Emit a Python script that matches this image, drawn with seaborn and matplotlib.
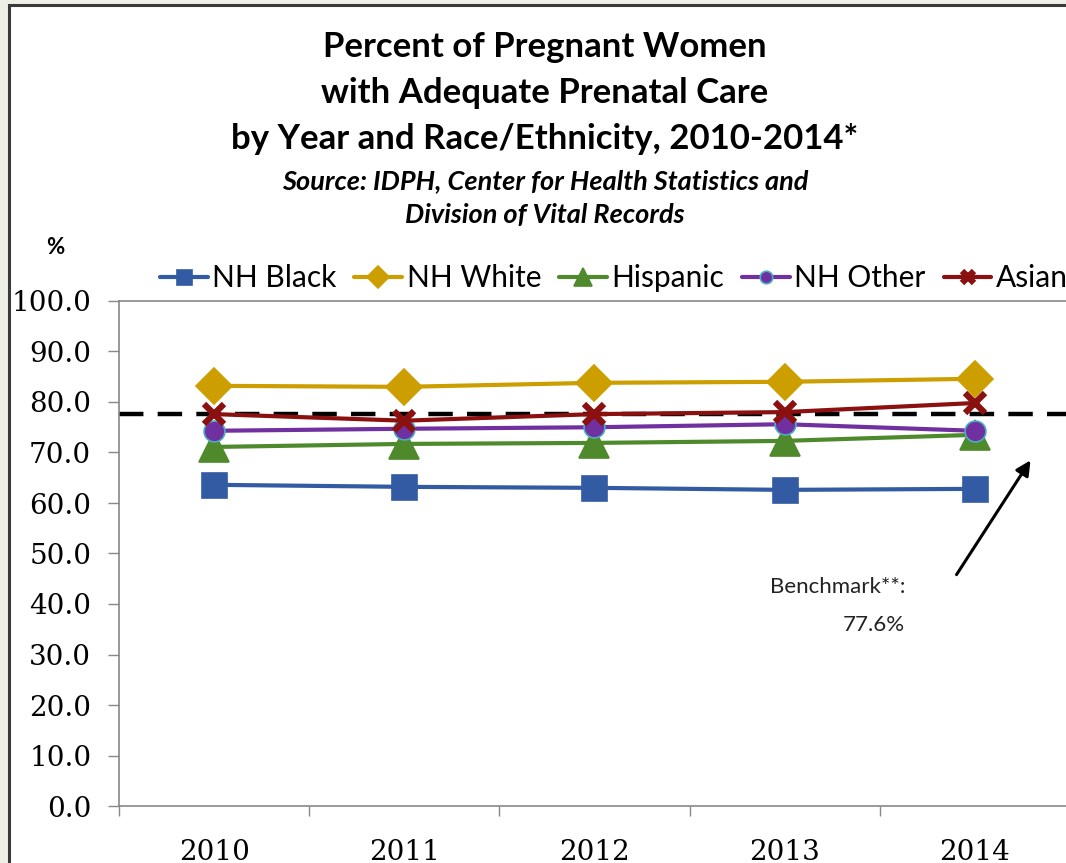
import matplotlib
matplotlib.use("Agg")
import matplotlib.pyplot as plt
import matplotlib.patches as mpatches
import seaborn as sns
import pandas as pd

# Data
years = ["2010", "2011", "2012", "2013", "2014"]
nh_black = [63.6, 63.2, 63.0, 62.6, 62.8]
nh_white = [83.2, 83.0, 83.8, 84.0, 84.6]
hispanic = [71.1, 71.7, 71.9, 72.3, 73.5]
nh_other = [74.3, 74.7, 75.0, 75.6, 74.3]
asian = [77.6, 76.3, 77.6, 78.0, 79.8]
benchmark = 77.6
y_ticks = [0, 10, 20, 30, 40, 50, 60, 70, 80, 90, 100]

series = [
    ("NH Black", nh_black, "#335BA3", "s", 18, "#335BA3"),
    ("NH White", nh_white, "#CC9E00", "D", 18, "#CC9E00"),
    ("Hispanic", hispanic, "#4E8A2C", "^", 22, "#4E8A2C"),
    ("NH Other", nh_other, "#7030A0", "o", 15, "#4BACC6"),
    ("Asian", asian, "#8B1010", "x", 14, "#8B1010"),
]

sns.set_theme(style="white")
plt.rcParams["font.family"] = ["Lato", "DejaVu Sans"]
plt.rcParams["text.color"] = "black"

fig = plt.figure(figsize=(10.66, 8.63), dpi=100, facecolor="#EFEFE7")

# white chart panel with a dark frame
panel = mpatches.Rectangle((9 / 1066, -0.01), 1.0, 1 - 5 / 863 + 0.01,
                           transform=fig.transFigure, facecolor="white",
                           edgecolor="#3A3A3A", linewidth=2.2, zorder=-10)
fig.patches.append(panel)

ax = fig.add_axes([119 / 1066, 1 - 806 / 863, (1070 - 119) / 1066, (806 - 301) / 863])
ax.set_facecolor("none")
ax.set_zorder(2)

x_pos = list(range(len(years)))
for name, vals, color, marker, ms, edge in series:
    df = pd.DataFrame({"x": x_pos, "y": vals})
    if marker == "x":
        kw = dict(markeredgecolor=color, markeredgewidth=4.5)
    else:
        kw = dict(markeredgecolor=edge, markeredgewidth=1.2)
    sns.lineplot(data=df, x="x", y="y", ax=ax, color=color, linewidth=3,
                 marker=marker, markersize=ms, label=name, legend=False,
                 zorder=3, **kw)

ax.axhline(benchmark, color="black", linewidth=3.2, dashes=(5.5, 3.2), zorder=2)

tick_font = ["DejaVu Serif"]
ax.set_xlim(-0.5, 4.5)
ax.set_ylim(0, 100)
ax.set_yticks(y_ticks)
ax.set_yticklabels([f"{v:.1f}" for v in y_ticks],
                   fontfamily=tick_font, fontsize=20, color="black")
ax.set_xticks([i - 0.5 for i in range(len(years) + 1)])
ax.set_xticklabels([])
ax.set_xticks(x_pos, minor=True)
ax.set_xticklabels(years, minor=True, fontfamily=tick_font, fontsize=20,
                   color="black")
ax.tick_params(axis="x", which="major", direction="out", length=7, width=1,
               color="#888888", bottom=True)
ax.tick_params(axis="x", which="minor", length=0, pad=24, bottom=True)
ax.tick_params(axis="y", direction="out", length=8, width=1, color="#888888",
               left=True, pad=12)
ax.set_xlabel("")
ax.set_ylabel("")
for side in ["left", "bottom", "top"]:
    ax.spines[side].set_color("#888888")
    ax.spines[side].set_linewidth(1.2)
ax.spines["right"].set_visible(False)

# titles
cx = 545 / 1066
fig.text(cx, 1 - 47 / 863, "Percent of Pregnant Women", ha="center", va="center",
         fontsize=25, fontweight="bold")
fig.text(cx, 1 - 93 / 863, "with Adequate Prenatal Care", ha="center", va="center",
         fontsize=25, fontweight="bold")
fig.text(cx, 1 - 139 / 863, "by Year and Race/Ethnicity, 2010-2014*", ha="center",
         va="center", fontsize=25, fontweight="bold")
fig.text(cx, 1 - 181 / 863, "Source: IDPH, Center for Health Statistics and",
         ha="center", va="center", fontsize=19.5, fontweight="bold", fontstyle="italic")
fig.text(cx, 1 - 215 / 863, "Division of Vital Records", ha="center", va="center",
         fontsize=19.5, fontweight="bold", fontstyle="italic")
fig.text(55 / 1066, 1 - 247 / 863, "%", ha="center", va="center", fontsize=16,
         fontweight="bold")

# legend
handles, labels = ax.get_legend_handles_labels()
fig.legend(handles, labels, loc="center left", bbox_to_anchor=(148 / 1066, 1 - 278 / 863),
           ncol=5, frameon=False, fontsize=21.5, markerscale=0.6, handlelength=1.6,
           handletextpad=0.15, columnspacing=0.6, borderaxespad=0)

# benchmark annotation
fig.text(905 / 1066, 1 - 587 / 863, "Benchmark**:", ha="right", va="center",
         fontsize=16, color="#222222")
fig.text(905 / 1066, 1 - 625 / 863, "77.6%", ha="right", va="center",
         fontsize=16, color="#222222")
fig.add_artist(mpatches.FancyArrowPatch(
    (955 / 1066, 1 - 577 / 863), (1032 / 1066, 1 - 458 / 863),
    transform=fig.transFigure, arrowstyle="-|>", mutation_scale=22,
    color="black", linewidth=2.2))

fig.savefig("out.png", dpi=100, facecolor=fig.get_facecolor())
